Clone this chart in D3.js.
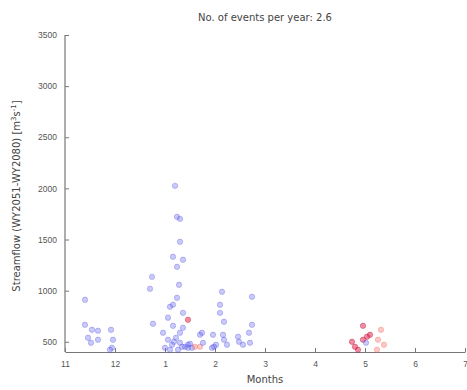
<!DOCTYPE html>
<html>
<head>
<meta charset="utf-8">
<script src="https://cdn.jsdelivr.net/npm/d3@7"></script>
<style>
  body { margin: 0; background: #fff; }
  svg { display: block; font-family: "DejaVu Sans", "Liberation Sans", sans-serif; }
</style>
</head>
<body>
<svg id="chart" width="467" height="390"></svg>
<script>
// Month position: 0 = start of November, 1 = December, ... 8 = July
const monthTicks = [0, 1, 2, 3, 4, 5, 6, 7, 8];
const monthLabels = ["11", "12", "1", "2", "3", "4", "5", "6", "7"];
const flowTicks = [500, 1000, 1500, 2000, 2500, 3000, 3500];

// Event timing (month position) and peak streamflow [m3/s]
const eventMonth = [
  0.40, 0.40, 0.54, 0.66, 0.46, 0.52, 0.66, 0.92, 0.96, 0.94, 0.90,
  2.20, 2.24, 2.30, 2.30, 2.16, 2.36, 2.24, 2.28, 1.70, 1.74, 1.76,
  2.10, 2.24, 2.16, 2.06, 2.36, 2.16, 2.46, 2.36, 2.70,
  2.06, 2.14, 2.22, 2.30, 2.40, 2.46, 2.54, 2.00, 2.10, 2.26, 2.50,
  2.60, 2.70, 1.96, 2.30, 2.34, 2.46, 2.18,
  3.14, 3.10, 3.10, 3.18, 2.96, 3.16, 3.18, 3.02, 2.98, 3.74, 3.74,
  3.68, 3.46, 3.48, 3.70, 3.56, 2.76, 2.74, 3.24, 2.94,
  5.96, 6.10, 5.74, 5.80, 5.96, 6.32, 6.26, 6.38, 6.24, 6.02, 5.86, 6.04
];
const eventFlow = [
  911, 666, 617, 608, 539, 490, 520, 617, 520, 441, 422,
  2025, 1722, 1702, 1478, 1331, 1302, 1233, 1057, 1018, 1135, 676,
  842, 930, 862, 735, 783, 656, 715, 637, 568,
  520, 471, 539, 490, 451, 471, 441, 441, 422, 422, 480,
  451, 451, 588, 588, 451, 441, 500,
  989, 862, 783, 696, 568, 568, 520, 471, 451, 940, 666,
  588, 549, 500, 490, 471, 490, 588, 471, 441,
  656, 568, 500, 451, 520, 617, 520, 471, 422, 490, 422, 549
];
// Colour class of each event: b = blue, r = red, s = salmon
const eventClass = [
  "b","b","b","b","b","b","b","b","b","b","b",
  "b","b","b","b","b","b","b","b","b","b","b",
  "b","b","b","b","b","b","r","b","b",
  "b","b","b","b","b","b","b","b","b","b","b",
  "s","s","b","b","b","b","b",
  "b","b","b","b","b","b","b","b","b","b","b",
  "b","b","b","b","b","b","b","b","b",
  "r","r","r","r","r","s","s","s","s","b","r","r"
];

const colours = {
  b: { fill: "rgba(100,100,245,0.35)", stroke: "rgba(80,80,210,0.45)" },
  r: { fill: "rgba(225,25,70,0.5)", stroke: "rgba(190,20,60,0.55)" },
  s: { fill: "rgba(250,120,110,0.4)", stroke: "rgba(230,100,90,0.45)" }
};

const svg = d3.select("#chart");
const x = d3.scaleLinear().domain([0, 8]).range([65, 465]);
const y = d3.scaleLinear().domain([400, 3500]).range([352, 35]);

// Axes with inward ticks
const xAxis = d3.axisBottom(x).tickValues(monthTicks)
  .tickFormat((d, i) => monthLabels[i]).tickSizeInner(-4).tickSizeOuter(0).tickPadding(9);
const yAxis = d3.axisLeft(y).tickValues(flowTicks).tickFormat(d3.format("d"))
  .tickSizeInner(-4).tickSizeOuter(0).tickPadding(8);

const gx = svg.append("g").attr("transform", "translate(0,352)").call(xAxis);
const gy = svg.append("g").attr("transform", "translate(65,0)").call(yAxis);
[gx, gy].forEach(g => {
  g.select(".domain").attr("stroke", "#777").attr("stroke-width", 1.2);
  g.selectAll(".tick line").attr("stroke", "#777");
  g.selectAll(".tick text").attr("fill", "#555").attr("font-size", 8.5);
});
// y domain line reaches the top tick
gy.select(".domain").attr("d", `M0,${y(3500)}V352`);

// Points
const pts = eventMonth.map((m, i) => ({ m, f: eventFlow[i], c: eventClass[i] }));
svg.append("g").selectAll("circle").data(pts).join("circle")
  .attr("cx", d => x(d.m))
  .attr("cy", d => y(d.f))
  .attr("r", 2.7)
  .attr("fill", d => colours[d.c].fill)
  .attr("stroke", d => colours[d.c].stroke)
  .attr("stroke-width", 0.7);

// Title and axis labels
svg.append("text").attr("x", 265).attr("y", 21).attr("text-anchor", "middle")
  .attr("font-size", 10).attr("fill", "#444").text("No. of events per year: 2.6");
svg.append("text").attr("x", 265).attr("y", 383).attr("text-anchor", "middle")
  .attr("font-size", 10).attr("fill", "#444").text("Months");
const yl = svg.append("text")
  .attr("transform", "translate(20,196) rotate(-90)")
  .attr("text-anchor", "middle").attr("font-size", 10).attr("fill", "#444");
yl.append("tspan").text("Streamflow (WY2051-WY2080) [m");
yl.append("tspan").attr("dy", -4).attr("font-size", 7).text("3");
yl.append("tspan").attr("dy", 4).text("s");
yl.append("tspan").attr("dy", -4).attr("font-size", 7).text("-1");
yl.append("tspan").attr("dy", 4).text("]");
</script>
</body>
</html>
